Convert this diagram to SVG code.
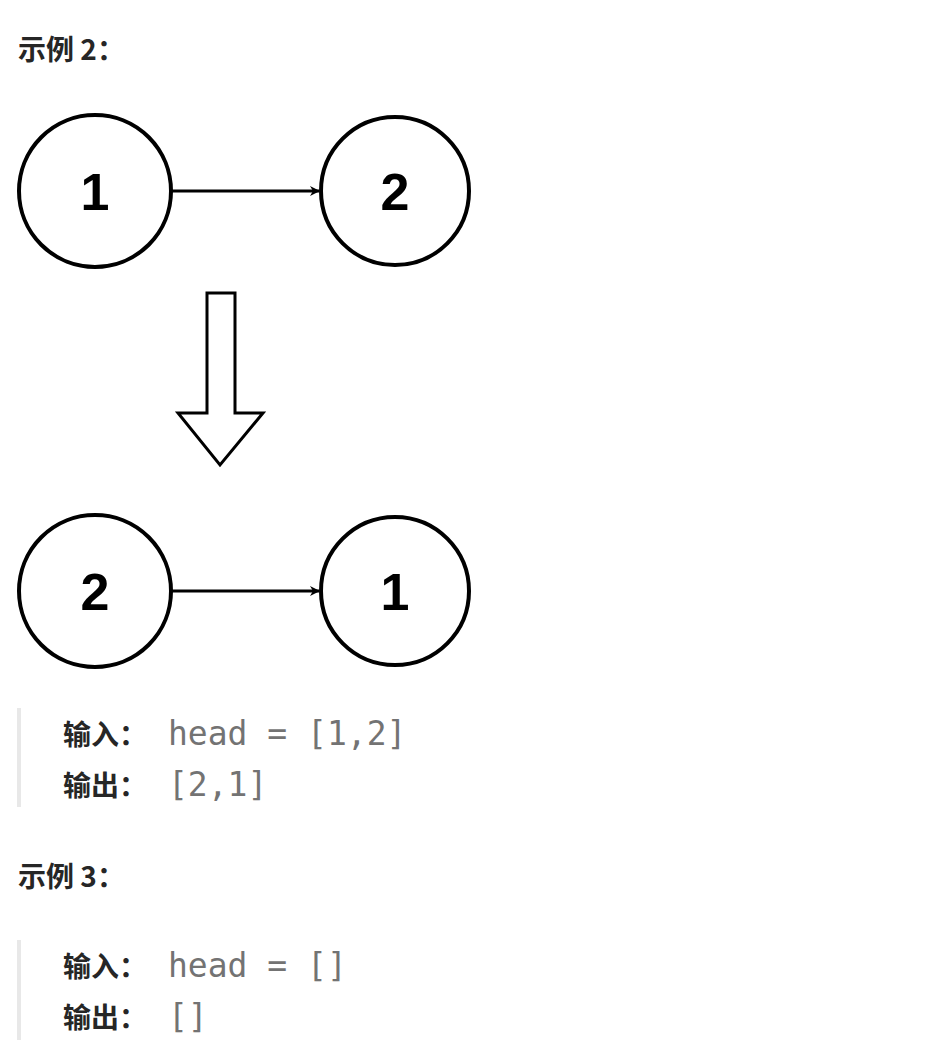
<svg xmlns="http://www.w3.org/2000/svg" width="939" height="1059" viewBox="0 0 939 1059">
<style>
.n{fill:#fff;stroke:#000;stroke-width:4}
.l{font-family:"Liberation Sans",Arial,sans-serif;font-weight:bold;font-size:52px;text-anchor:middle}
.h{font-family:"Noto Sans CJK SC",sans-serif;font-weight:bold;font-size:28px;fill:#262626}
.m{font-family:"DejaVu Sans Mono",monospace;font-size:33px;fill:#737373}
.c{stroke:#000;stroke-width:3;fill:none}
</style>
<defs><marker id="a" markerWidth="10" markerHeight="10" refX="9" refY="5" orient="auto" markerUnits="userSpaceOnUse" viewBox="0 0 10 10"><path d="M0,0 L10,5 L0,10 L3,5 Z"/></marker></defs>
<rect width="939" height="1059" fill="#fff"/>
<text class="h" x="18" y="60">示例 2：</text>
<g id="conn">
<line class="c" x1="172" y1="191" x2="319" y2="191" stroke-width="3" marker-end="url(#a)" style="marker-end:url(#a)"/>
<line class="c" x1="172" y1="591" x2="319" y2="591" marker-end="url(#a)"/>
<path d="M207,293 H235 V413 H263 L220,465 L178,413 H207 Z" fill="#fff" stroke="#000" stroke-width="3"/>
</g>
<g id="n1"><circle class="n" cx="95" cy="191" r="76"/><text class="l" x="95" y="210">1</text></g>
<g id="n2"><circle class="n" cx="395" cy="191" r="74"/><text class="l" x="395" y="210">2</text></g>
<g id="n3"><circle class="n" cx="95" cy="591" r="76"/><text class="l" x="95" y="610">2</text></g>
<g id="n4"><circle class="n" cx="395" cy="591" r="74"/><text class="l" x="395" y="610">1</text></g>
<rect x="17" y="708" width="4" height="99" fill="#e8e8e8"/>
<text class="h" x="63" y="745">输入：</text><text class="m" x="168" y="745">head = [1,2]</text>
<text class="h" x="63" y="796">输出：</text><text class="m" x="168" y="796">[2,1]</text>
<text class="h" x="18" y="887">示例 3：</text>
<rect x="17" y="940" width="4" height="100" fill="#e8e8e8"/>
<text class="h" x="63" y="977">输入：</text><text class="m" x="168" y="977">head = []</text>
<text class="h" x="63" y="1028">输出：</text><text class="m" x="168" y="1028">[]</text>
</svg>
